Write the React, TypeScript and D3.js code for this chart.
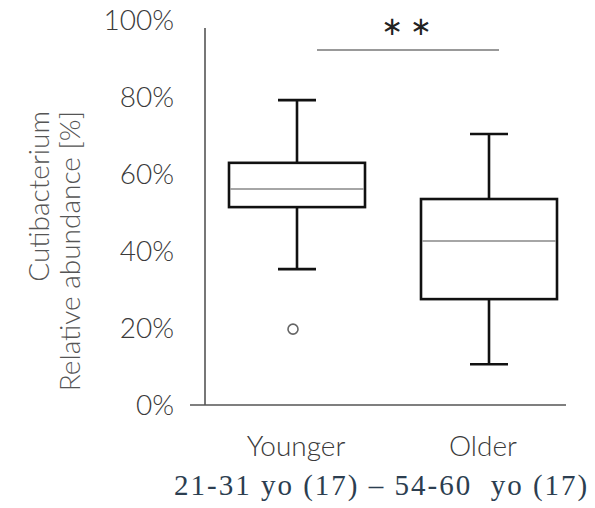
import React from "react";
import * as d3 from "d3";

const categories = ["Younger", "Older"];
const lowerWhisker = [0.353, 0.106];
const q1Values = [0.514, 0.275];
const medians = [0.561, 0.426];
const q3Values = [0.629, 0.535];
const upperWhisker = [0.792, 0.704];
const outliers = [[0.197], []];
const yTicks = [0, 0.2, 0.4, 0.6, 0.8, 1.0];
const yTitleLines = ["Cutibacterium", "Relative abundance [%]"];
const footnote = "21-31 yo (17) \u2013 54-60  yo (17)";
const significance = "\u2217\u2217";

export default function App() {
  const W = 595, H = 508;
  const y = d3.scaleLinear().domain([0, 1]).range([405, 20]);
  const x = d3.scalePoint().domain(categories).range([297, 489]);
  const boxW = 136;
  const capW = 38;
  const axisX = 205;
  const fmt = d3.format(".0%");
  const sans = "Lato, 'Open Sans', sans-serif";

  return (
    <svg width={W} height={H} style={{ position: "absolute", left: 0, top: 0 }}>
      <rect width={W} height={H} fill="#fff" />
      {/* axes */}
      <line x1={axisX} x2={axisX} y1={28} y2={y(0)} stroke="#555" strokeWidth={1.6} />
      <line x1={190} x2={566} y1={y(0)} y2={y(0)} stroke="#555" strokeWidth={1.6} />
      {yTicks.map((t) => (
        <text key={t} x={174} y={y(t)} dy="0.36em" textAnchor="end" fontFamily={sans} fontWeight={300} fontSize={28} fill="#3a3a3a">
          {fmt(t)}
        </text>
      ))}
      {/* y title */}
      {yTitleLines.map((s, i) => (
        <text key={s} transform={`translate(${49 + i * 31},111) rotate(-90)`} textAnchor="end" fontFamily={sans} fontWeight={300} fontSize={28} fill="#555">
          {s}
        </text>
      ))}
      {/* boxes */}
      {categories.map((c, i) => {
        const cx = x(c) as number;
        return (
          <g key={c}>
            <line x1={cx} x2={cx} y1={y(upperWhisker[i])} y2={y(q3Values[i])} stroke="#111" strokeWidth={2.6} />
            <line x1={cx} x2={cx} y1={y(q1Values[i])} y2={y(lowerWhisker[i])} stroke="#111" strokeWidth={2.6} />
            <line x1={cx - capW / 2} x2={cx + capW / 2} y1={y(upperWhisker[i])} y2={y(upperWhisker[i])} stroke="#111" strokeWidth={2.6} />
            <line x1={cx - capW / 2} x2={cx + capW / 2} y1={y(lowerWhisker[i])} y2={y(lowerWhisker[i])} stroke="#111" strokeWidth={2.6} />
            <rect x={cx - boxW / 2} y={y(q3Values[i])} width={boxW} height={y(q1Values[i]) - y(q3Values[i])} fill="none" stroke="#111" strokeWidth={2.6} />
            <line x1={cx - boxW / 2 + 1.3} x2={cx + boxW / 2 - 1.3} y1={y(medians[i])} y2={y(medians[i])} stroke="#888" strokeWidth={1.5} />
            {outliers[i].map((o, j) => (
              <circle key={j} cx={cx - 4} cy={y(o)} r={5} fill="#fff" stroke="#666" strokeWidth={1.6} />
            ))}
            <text x={cx - (i === 0 ? 1 : 6)} y={456} textAnchor="middle" fontFamily={sans} fontWeight={300} fontSize={28} fill="#3a3a3a">
              {c}
            </text>
          </g>
        );
      })}
      {/* significance */}
      <line x1={(x("Younger") as number) + 20} x2={(x("Older") as number) + 10} y1={50} y2={50} stroke="#777" strokeWidth={1.6} />
      <text x={410} y={35} textAnchor="middle" fontFamily="'DejaVu Sans', sans-serif" fontSize={26} letterSpacing={7} fill="#222">
        {significance}
      </text>
      {/* footnote */}
      <text x={174} y={495} fontFamily="'Liberation Serif', 'Times New Roman', serif" fontSize={29} letterSpacing={2} fill="#2c3e50" style={{ whiteSpace: "pre" }}>
        {footnote}
      </text>
    </svg>
  );
}
